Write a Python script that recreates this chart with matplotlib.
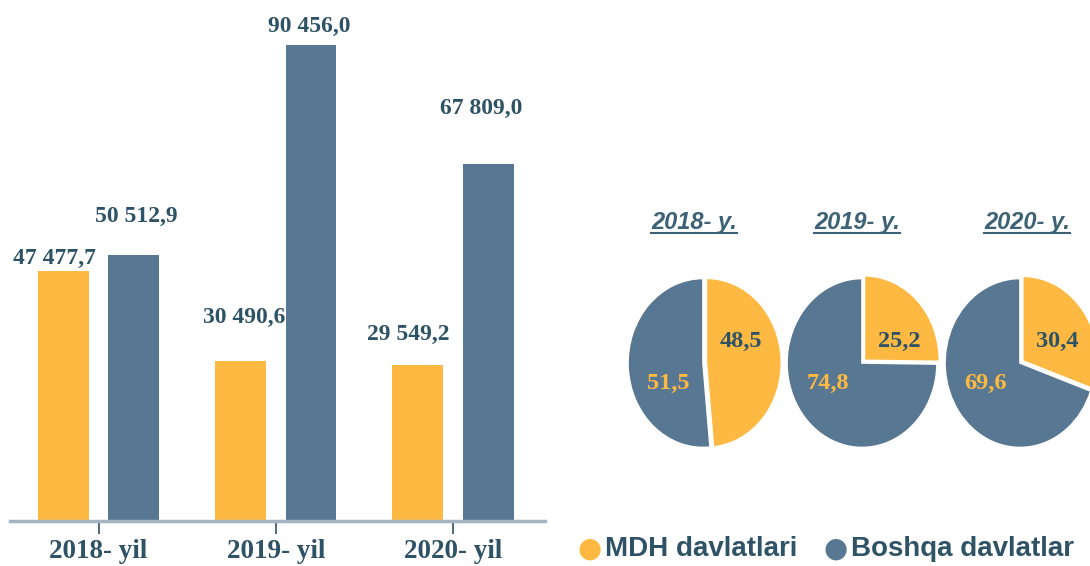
import matplotlib.pyplot as plt
import numpy as np
from matplotlib.lines import Line2D

# Data
years = ["2018- yil", "2019- yil", "2020- yil"]
mdh = [47477.7, 30490.6, 29549.2]
boshqa = [50512.9, 90456.0, 67809.0]
mdh_labels = ["47 477,7", "30 490,6", "29 549,2"]
boshqa_labels = ["50 512,9", "90 456,0", "67 809,0"]

pie_titles = ["2018- y.", "2019- y.", "2020- y."]
pie_mdh = [48.5, 25.2, 30.4]
pie_boshqa = [51.5, 74.8, 69.6]
legend_names = ["MDH davlatlari", "Boshqa davlatlar"]

# Style
YELLOW = "#FDB941"
BLUE = "#577792"
DARK = "#2F5366"
AXIS = "#A5B4C2"
W, H = 1090, 566

fig = plt.figure(figsize=(W / 100, H / 100), dpi=100)


def px_axes(left, top, width, height):
    return fig.add_axes([left / W, 1 - (top + height) / H, width / W, height / H])


# Bar chart
ax = px_axes(10, 0, 535, 521)
x = np.arange(len(years))
bw = 0.287
off = 0.199
ax.bar(x - off, mdh, bw, color=YELLOW)
ax.bar(x + off, boshqa, bw, color=BLUE)
ax.set_xlim(-0.5, 2.52)
ax.set_ylim(0, 99000)
for s in ["top", "right", "left"]:
    ax.spines[s].set_visible(False)
ax.spines["bottom"].set_color(AXIS)
ax.spines["bottom"].set_linewidth(2.5)
ax.set_yticks([])
ax.set_xticks(x)
ax.set_xticklabels(years, fontfamily="Liberation Serif", fontweight="bold",
                   fontsize=19.5, color=DARK)
ax.tick_params(axis="x", length=9, width=1.2, color=DARK, pad=4)

# data labels (manual offsets, like the original)
mdh_off = [(-6, 9), (3, 31), (-7, 22)]
boshqa_off = [(2, 28), (-1, 13), (-5, 40)]
lab_kw = dict(ha="center", va="center", fontfamily="Liberation Serif",
              fontweight="bold", fontsize=17, color=DARK,
              textcoords="offset points")
for i in range(len(years)):
    ax.annotate(mdh_labels[i], (x[i] - off, mdh[i]), xytext=mdh_off[i], **lab_kw)
    ax.annotate(boshqa_labels[i], (x[i] + off, boshqa[i]), xytext=boshqa_off[i], **lab_kw)

# Pies
pie_cx = [703, 862, 1020]
pie_cy = 363
rx, ry = 75, 84.5
m = 1.15
title_x = [694, 857, 1027]
titles = []
for i in range(3):
    pa = px_axes(pie_cx[i] - m * rx, pie_cy - m * ry, 2 * m * rx, 2 * m * ry)
    pa.pie([pie_mdh[i], pie_boshqa[i]], colors=[YELLOW, BLUE], startangle=90,
           counterclock=False, explode=[0.045, 0],
           wedgeprops=dict(edgecolor="white", linewidth=1.2))
    pa.set_aspect("auto")
    pa.set_xlim(-m, m)
    pa.set_ylim(-m, m)
    pa.text(0.5, 0.26, f"{pie_mdh[i]:.1f}".replace(".", ","), ha="center", va="center",
            fontfamily="Liberation Serif", fontweight="bold", fontsize=17.5, color=DARK)
    pa.text(-0.46, -0.24, f"{pie_boshqa[i]:.1f}".replace(".", ","), ha="center", va="center",
            fontfamily="Liberation Serif", fontweight="bold", fontsize=17.5, color=YELLOW)
    t = fig.text(title_x[i] / W, 1 - 222 / H, pie_titles[i], ha="center", va="center",
                 fontfamily="Liberation Sans", fontweight="bold", fontstyle="italic",
                 fontsize=17, color="#3D6275")
    titles.append(t)

# Legend
leg_y = 1 - 549 / H
fig.text(590 / W, leg_y, "\u25cf", ha="center", va="center", fontsize=20, color=YELLOW)
fig.text(605 / W, leg_y, legend_names[0], ha="left", va="center",
         fontfamily="Liberation Sans", fontweight="bold", fontsize=20, color=DARK)
fig.text(836 / W, leg_y, "\u25cf", ha="center", va="center", fontsize=20, color=BLUE)
fig.text(851 / W, leg_y, legend_names[1], ha="left", va="center",
         fontfamily="Liberation Sans", fontweight="bold", fontsize=20, color=DARK)

# underline the pie titles
fig.canvas.draw()
r = fig.canvas.get_renderer()
for t in titles:
    bb = t.get_window_extent(r)
    yline = (bb.y0 + 1) / H
    fig.add_artist(Line2D([bb.x0 / W, bb.x1 / W], [yline, yline],
                          color="#3D6275", linewidth=1.5))

fig.savefig("out.png", dpi=100)
